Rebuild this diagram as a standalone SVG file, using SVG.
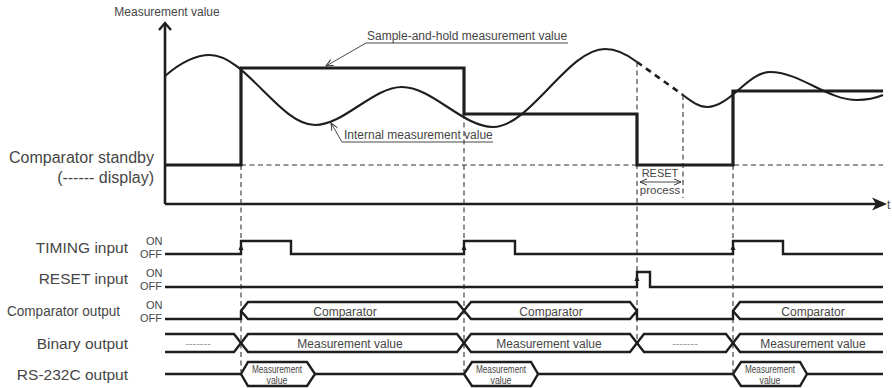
<svg xmlns="http://www.w3.org/2000/svg" width="892" height="388" viewBox="0 0 892 388">
<style>
text{font-family:"Liberation Sans",Arial,sans-serif;fill:#464646}
.lbl{font-size:15.5px;text-anchor:end}
.sm{font-size:11px}
.bus{font-size:12px;text-anchor:middle}
.hx{font-size:10px;text-anchor:middle}
.sig{fill:none;stroke:#1e1e1e;stroke-width:2.4;stroke-linejoin:miter}
.dash{fill:none;stroke:#333;stroke-width:1.1;stroke-dasharray:5 3.5}
.thin{fill:none;stroke:#333;stroke-width:0.9}
.tri{fill:#1e1e1e}
</style>
<defs>
<marker id="open" viewBox="0 0 10 10" refX="9" refY="5" markerWidth="8" markerHeight="8" orient="auto-start-reverse" markerUnits="userSpaceOnUse">
<path d="M0,1 L9,5 L0,9" fill="none" stroke="#333" stroke-width="1.2"/>
</marker>
</defs>

<g id="axes">
<text x="167" y="16" style="font-size:12px;text-anchor:middle">Measurement value</text>
<path d="M165,204 V23" fill="none" stroke="#1e1e1e" stroke-width="2.6"/>
<path d="M159,30 L165,23 L171,30" fill="none" stroke="#1e1e1e" stroke-width="2.4"/>
<path d="M165,204 H878" fill="none" stroke="#1e1e1e" stroke-width="2.6"/>
<polygon points="887,204 872,197.5 876,204 872,210.5" fill="#1e1e1e"/>
<text x="887" y="209" style="font-size:12px">t</text>
</g>

<g id="guides">
<path class="dash" d="M241,165 H883"/>
<path class="dash" d="M241,165 V372"/>
<path class="dash" d="M464,114 V372"/>
<path class="dash" d="M637,62 V343"/>
<path class="dash" d="M683,95 V198"/>
<path class="dash" d="M733,165 V372"/>
</g>

<g id="curve">
<path d="M165,76 C180,63 195,55 210,55 C245,55 280,125 315,125 C344,125 373,87 402,87 C432,87 463,127 493,127 C530,127 568,49 605,49 C617,49 628,55 637,62" fill="none" stroke="#1e1e1e" stroke-width="2.1"/>
<path d="M637,62 L683,95" fill="none" stroke="#1e1e1e" stroke-width="2.6" stroke-dasharray="6 5"/>
<path d="M683,95 C692,102 699,107 707,107 C730,107 748,72 770,72 C800,72 827,100 857,100 C867,100 876,98 883,95" fill="none" stroke="#1e1e1e" stroke-width="2.1"/>
</g>

<g id="sample-hold">
<path d="M165,165 H241 V68 H464 V114 H637 V165 H733 V91 H883" fill="none" stroke="#1e1e1e" stroke-width="3.2"/>
</g>

<g id="callouts">
<text x="367" y="40" style="font-size:12px">Sample-and-hold measurement value</text>
<path class="thin" d="M568,43 H366 L326,66" marker-end="url(#open)"/>
<text x="344" y="139" style="font-size:12px">Internal measurement value</text>
<path class="thin" d="M493,142 H342 L331,123" marker-end="url(#open)"/>
</g>

<g id="standby-label">
<text class="lbl" x="154" y="163" style="font-size:16px">Comparator standby</text>
<text class="lbl" x="154" y="183" style="font-size:16px">(------ display)</text>
</g>

<g id="reset-process">
<text x="660" y="177" style="font-size:11px;text-anchor:middle">RESET</text>
<path class="thin" d="M640,182 H681" marker-start="url(#open)" marker-end="url(#open)"/>
<text x="660" y="194" style="font-size:11.5px;text-anchor:middle">process</text>
</g>

<g id="timing-input">
<text class="lbl" x="128" y="253">TIMING input</text>
<text class="sm" x="146" y="245">ON</text>
<text class="sm" x="140" y="258">OFF</text>
<path class="sig" d="M165,254 H241 V241 H291 V254 H464 V241 H515 V254 H733 V241 H783 V254 H883"/>
<polygon class="tri" points="241,244 238.5,250 243.5,250"/>
<polygon class="tri" points="464,244 461.5,250 466.5,250"/>
<polygon class="tri" points="733,244 730.5,250 735.5,250"/>
</g>

<g id="reset-input">
<text class="lbl" x="128" y="284">RESET input</text>
<text class="sm" x="146" y="277">ON</text>
<text class="sm" x="140" y="290">OFF</text>
<path class="sig" d="M165,287 H637 V272 H650 V287 H883"/>
<polygon class="tri" points="637,275 634.5,281 639.5,281"/>
</g>

<g id="comparator-output">
<text x="7" y="316" textLength="113" lengthAdjust="spacingAndGlyphs" style="font-size:15.5px">Comparator output</text>
<text class="sm" x="146" y="309">ON</text>
<text class="sm" x="140" y="322">OFF</text>
<path class="sig" d="M165,319 H241 V311 L248,302 H457 L471,319 H630 L637,311 V319 H733 V311 L740,302 H883"/>
<path class="sig" d="M241,311 L248,319 H457 L471,302 H630 L637,311"/>
<path class="sig" d="M733,311 L740,319 H883"/>
<text class="bus" x="345" y="316">Comparator</text>
<text class="bus" x="551" y="316">Comparator</text>
<text class="bus" x="813" y="316">Comparator</text>
</g>

<g id="binary-output">
<text class="lbl" x="128" y="349">Binary output</text>
<path class="sig" d="M165,334 H234 L248,352 H457 L471,334 H630 L644,352 H726 L740,334 H883"/>
<path class="sig" d="M165,352 H234 L248,334 H457 L471,352 H630 L644,334 H726 L740,352 H883"/>
<text class="bus" x="198" y="347" style="fill:#999;font-size:11px">-------</text>
<text class="bus" x="350" y="348">Measurement value</text>
<text class="bus" x="549" y="348">Measurement value</text>
<text class="bus" x="685" y="347" style="fill:#999;font-size:11px">-------</text>
<text class="bus" x="813" y="348">Measurement value</text>
</g>

<g id="rs232c-output">
<text class="lbl" x="128" y="380">RS-232C output</text>
<path class="sig" d="M165,374 H241 M315,374 H464 M538,374 H733 M807,374 H883"/>
<polygon class="sig" points="241,374 248,362 307,362 315,374 307,386 248,386"/>
<polygon class="sig" points="464,374 472,362 531,362 538,374 531,386 472,386"/>
<polygon class="sig" points="733,374 741,362 800,362 807,374 800,386 741,386"/>
<text class="hx" x="277" y="373" textLength="50" lengthAdjust="spacingAndGlyphs">Measurement</text>
<text class="hx" x="277" y="384" textLength="21" lengthAdjust="spacingAndGlyphs">value</text>
<text class="hx" x="501" y="373" textLength="50" lengthAdjust="spacingAndGlyphs">Measurement</text>
<text class="hx" x="501" y="384" textLength="21" lengthAdjust="spacingAndGlyphs">value</text>
<text class="hx" x="770" y="373" textLength="50" lengthAdjust="spacingAndGlyphs">Measurement</text>
<text class="hx" x="770" y="384" textLength="21" lengthAdjust="spacingAndGlyphs">value</text>
</g>
</svg>
